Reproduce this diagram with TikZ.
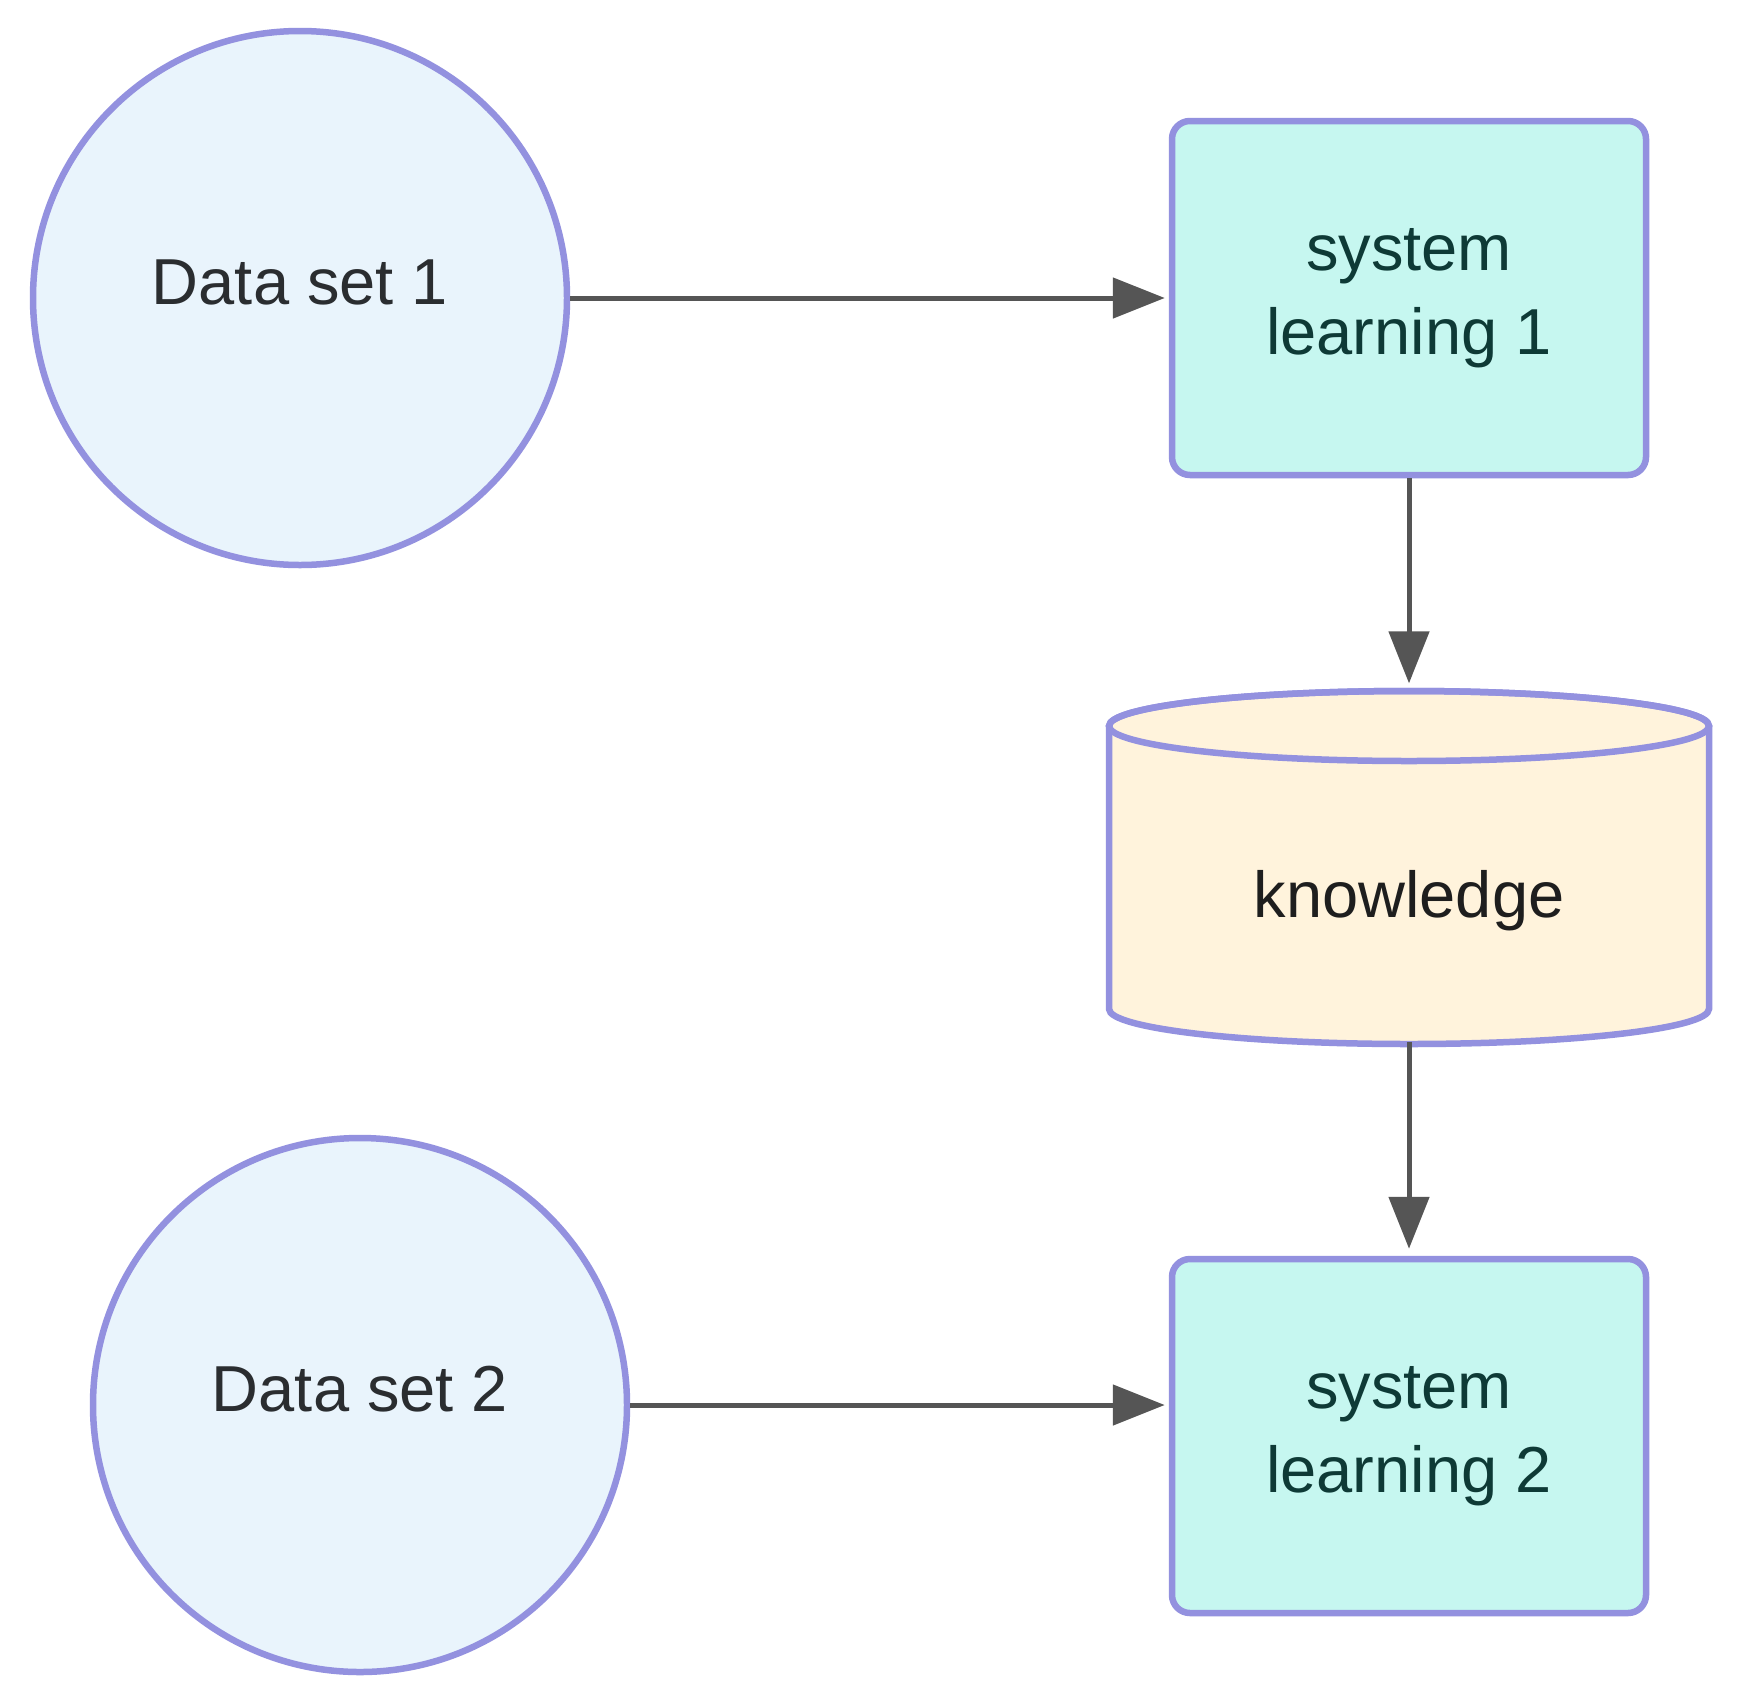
\documentclass[tikz,border=0pt]{standalone}
\usepackage{fontspec}
\setmainfont{Liberation Sans}
\usetikzlibrary{arrows.meta}
\definecolor{strk}{HTML}{9391DF}
\definecolor{circfill}{HTML}{E9F4FC}
\definecolor{boxfill}{HTML}{C6F7F0}
\definecolor{cylfill}{HTML}{FFF3DC}
\definecolor{arr}{HTML}{555555}
\definecolor{ctext}{HTML}{2A2D30}
\definecolor{btext}{HTML}{0E3A36}
\definecolor{ktext}{HTML}{1E1E1E}
\tikzset{
  dataset/.style={circle, draw=strk, fill=circfill, line width=6.5pt, minimum size=534pt, inner sep=0pt},
  dtext/.style={text=ctext, font=\fontsize{65}{87}\selectfont, inner sep=0pt},
  sysbox/.style={rectangle, rounded corners=18pt, draw=strk, fill=boxfill, line width=6.5pt, minimum width=474pt, minimum height=354pt, inner sep=0pt, align=center, text=btext, font=\fontsize{65}{84}\selectfont},
  flow/.style={draw=arr, line width=5pt, -{Triangle[length=52pt,width=40pt]}}
}
\begin{document}
\begin{tikzpicture}[x=1pt,y=1pt]
\useasboundingbox[fill=white] (0,0) rectangle (1742,-1700);
% nodes
\node[dataset] (d1) at (300,-298) {};
\node[dtext] (d1t) at (300,-282) {Data set 1};
\node[dataset] (d2) at (360,-1405) {};
\node[dtext] (d2t) at (360,-1389) {Data set 2};
\node[sysbox] (s1) at (1409,-298) {system\\learning 1};
\node[sysbox] (s2) at (1409,-1436) {system\\learning 2};
% cylinder
\path[fill=cylfill, draw=strk, line width=6.5pt]
  (1109,-726) -- (1109,-1009) arc[start angle=180, end angle=360, x radius=300, y radius=35]
  -- (1709,-726) arc[start angle=0, end angle=180, x radius=300, y radius=35] -- cycle;
\draw[strk, line width=6.5pt] (1409,-726) ellipse[x radius=300, y radius=35];
\node[minimum width=600pt, minimum height=348pt, inner sep=0pt] (kn) at (1409,-867.5) {};
\node[text=ktext, font=\fontsize{65}{84}\selectfont, inner sep=0pt] (knt) at (1409,-901) {knowledge};
% connectors
\draw[flow, shorten >=4pt] (d1) -- (s1);
\draw[flow, shorten >=4pt] (d2.east) -- (s2.west |- d2.east);
\draw[flow, shorten >=10pt] (s1.south) -- (kn.north);
\draw[flow, shorten >=7pt] (kn.south) -- (s2.north);
\end{tikzpicture}
\end{document}
